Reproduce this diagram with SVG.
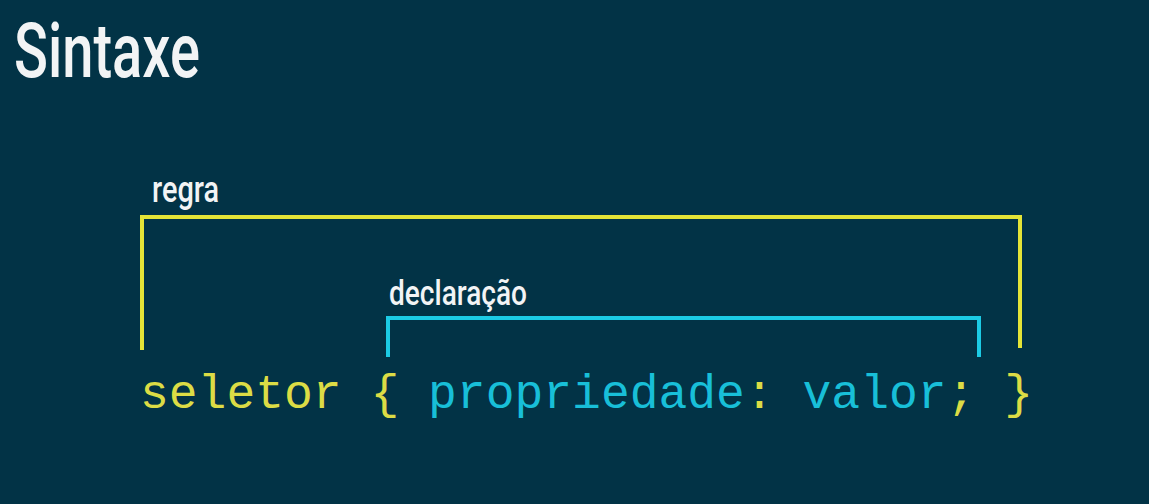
<svg xmlns="http://www.w3.org/2000/svg" width="1149" height="504" viewBox="0 0 1149 504">
<style>
.lbl{font-family:Roboto,"Liberation Sans",sans-serif;fill:#f2f4f5;font-weight:500}
.code{font-family:"Liberation Mono","Courier New",monospace;font-size:48px}
.y{fill:#dcdc45}
.c{fill:#18bfd8}
.br{fill:none;stroke-width:4;stroke-linejoin:miter}
</style>
<rect width="1149" height="504" fill="#023346"/>
<text id="title" class="lbl" x="14" y="77" font-size="76" textLength="186" lengthAdjust="spacingAndGlyphs">Sintaxe</text>
<g id="connectors">
<polyline class="br" stroke="#e4e437" points="142,350 142,217 1020,217 1020,348"/>
<polyline class="br" stroke="#1ccbe5" points="388,357 388,318 979,318 979,357"/>
</g>
<g id="regra"><text class="lbl" x="152" y="202" font-size="36" textLength="67" lengthAdjust="spacingAndGlyphs">regra</text></g>
<g id="declaracao"><text class="lbl" x="389" y="305" font-size="35" textLength="138" lengthAdjust="spacingAndGlyphs">declaração</text></g>
<g id="code"><text class="code" x="140" y="408"><tspan class="y">seletor {</tspan><tspan class="c"> propriedade</tspan><tspan class="y">:</tspan><tspan class="c"> valor</tspan><tspan class="y">;</tspan><tspan class="y"> }</tspan></text></g>
</svg>
